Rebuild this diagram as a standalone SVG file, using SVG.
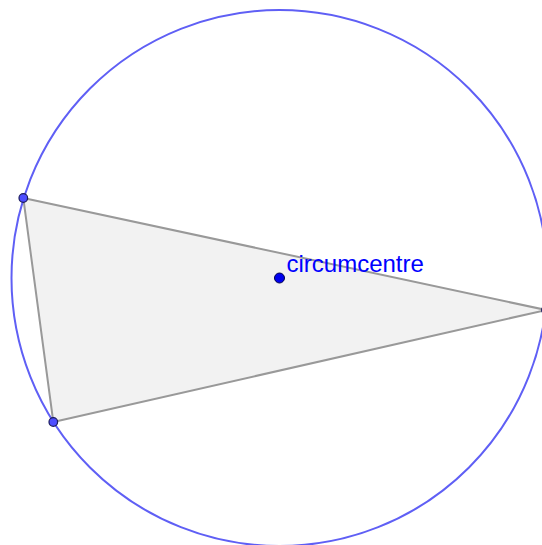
<svg xmlns="http://www.w3.org/2000/svg" width="542" height="545" viewBox="0 0 542 545">
<style>
.pt{fill:#4d4dff;stroke:#1a1a5e;stroke-width:1.2}
.lbl{font-family:"Liberation Sans",Arial,sans-serif;font-size:24px;fill:#0000ff}
</style>
<rect width="542" height="545" fill="#ffffff"/>
<g id="triangle">
<polygon points="23.3,198 53.3,422 546,310" fill="#f2f2f2" stroke="#999999" stroke-width="2" stroke-linejoin="round"/>
</g>
<g id="connectors">
<circle cx="279.5" cy="278" r="268" fill="none" stroke="#5f5ff5" stroke-width="2"/>
</g>
<g id="A"><circle class="pt" cx="23.3" cy="198" r="4.3"/></g>
<g id="B"><circle class="pt" cx="53.3" cy="422" r="4.3"/></g>
<g id="C"><circle class="pt" cx="546" cy="310" r="4.3"/></g>
<g id="circumcentre">
<circle cx="279.5" cy="278" r="5" fill="#0000ee" stroke="#00004d" stroke-width="1"/>
<text class="lbl" x="286.5" y="271.5">circumcentre</text>
</g>
</svg>
